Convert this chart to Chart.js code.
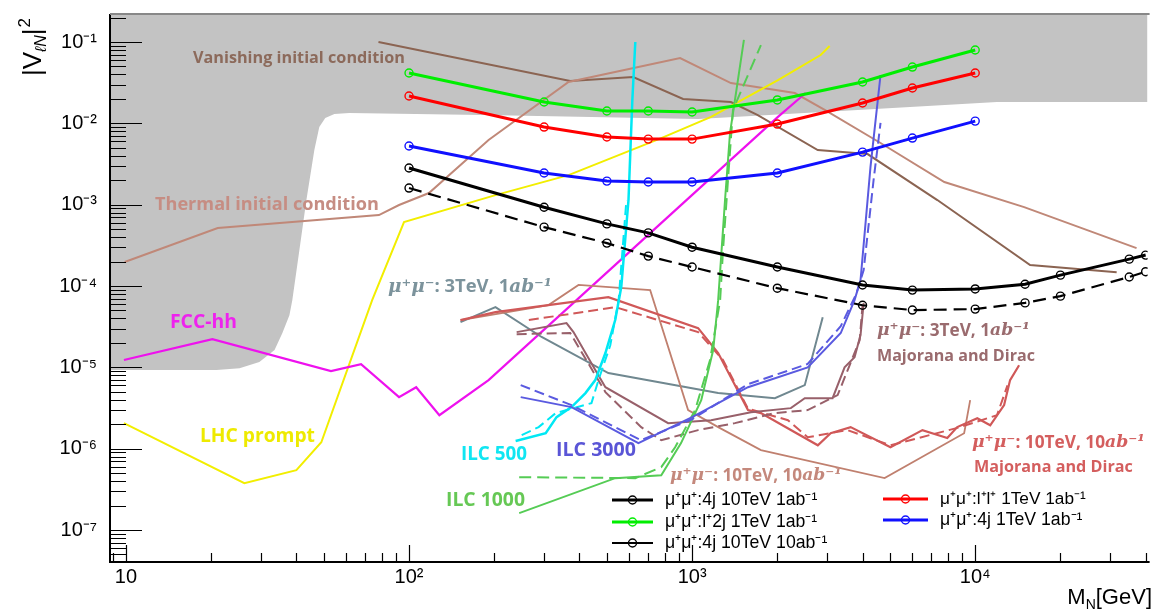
<!DOCTYPE html>
<html>
<head>
<meta charset="utf-8">
<script src="https://cdn.jsdelivr.net/npm/chart.js@4.4.1/dist/chart.umd.min.js"></script>
<style>
  html, body { margin: 0; padding: 0; background: #fff; }
  canvas { display: block; }
</style>
</head>
<body>
<canvas id="c" width="1153" height="612"></canvas>
<script>
// axis
const xTicks = [10, 100, 1000, 10000];
const xTickLabels = ['10', '10²', '10³', '10⁴'];
const yTicks = [1e-7, 1e-6, 1e-5, 1e-4, 1e-3, 1e-2, 1e-1];
const yTickLabels = ['10⁻⁷', '10⁻⁶', '10⁻⁵', '10⁻⁴', '10⁻³', '10⁻²', '10⁻¹'];

// mu+ mu+ same-sign results (M_N in GeV, |V|^2)
const mass10TeV = [100, 300, 500, 700, 1000, 2000, 4000, 6000, 10000, 15000, 20000, 35000, 40000];
const v4j10TeV1ab = [2.82e-3, 9.3e-4, 5.8e-4, 4.5e-4, 3.0e-4, 1.71e-4, 1.03e-4, 8.9e-5, 9.2e-5, 1.05e-4, 1.36e-4, 2.14e-4, 2.4e-4];
const v4j10TeV10ab = [1.6e-3, 5.3e-4, 3.37e-4, 2.33e-4, 1.71e-4, 9.4e-5, 5.8e-5, 5.06e-5, 5.2e-5, 6.2e-5, 7.5e-5, 1.29e-4, 1.5e-4];
const mass1TeV = [100, 300, 500, 700, 1000, 2000, 4000, 6000, 10000];
const vL2j1TeV = [0.0416, 0.0183, 0.0142, 0.0142, 0.0138, 0.0194, 0.0322, 0.0492, 0.0798];
const vLL1TeV = [0.0217, 9.0e-3, 6.8e-3, 6.4e-3, 6.4e-3, 9.8e-3, 0.0178, 0.0272, 0.0416];
const v4j1TeV = [5.26e-3, 2.45e-3, 1.95e-3, 1.9e-3, 1.9e-3, 2.45e-3, 4.43e-3, 6.59e-3, 0.01066];

// cosmology bounds
const vanishM = [78, 371, 619, 929, 1371, 1706, 2778, 4168, 7350, 15630, 31600];
const vanishV = [0.1, 0.0331, 0.0371, 0.0199, 0.0183, 0.01265, 4.7e-3, 4.19e-3, 1.14e-3, 1.81e-4, 1.48e-4];
const thermalM = [9.9, 21.1, 78.3, 92.2, 117.6, 191, 366, 907, 1371, 2307, 2940, 4630, 7780, 14890, 37150];
const thermalV = [1.97e-4, 5.15e-4, 7.45e-4, 9.9e-4, 1.39e-3, 6.24e-3, 0.0322, 0.0635, 0.0313, 0.0236, 0.0146, 5.73e-3, 1.9e-3, 9.33e-4, 2.92e-4];

// excluded (grey) region, lower edge
const greyM = [8.785, 20.9, 25.2, 29.6, 33.5, 35.7, 37.8, 38.7, 41.0, 43.4, 46.3, 48.2, 50.6, 54.5, 61.5, 207, 1050, 3846, 11940, 40640];
const greyV = [9.25e-6, 9.25e-6, 9.77e-6, 1.16e-5, 1.63e-5, 2.64e-5, 4.38e-5, 6.7e-5, 2.77e-4, 1.14e-3, 4.7e-3, 9.0e-3, 1.16e-2, 1.3e-2, 1.34e-2, 1.26e-2, 1.13e-2, 1.46e-2, 1.83e-2, 1.83e-2];

// colliders
const lhcM = [9.84, 26.2, 40, 49, 74.1, 96, 202, 366, 778, 1167, 2010, 2845, 3060];
const lhcV = [2.06e-6, 3.77e-7, 5.45e-7, 1.2e-6, 6.7e-5, 6.1e-4, 1.31e-3, 2.31e-3, 6.59e-3, 0.012, 0.0341, 0.0692, 0.0893];
const fccM = [9.84, 20.2, 53, 67.7, 92.2, 106, 128, 191, 467, 2010, 2518];
const fccV = [1.23e-5, 2.22e-5, 8.98e-6, 1.09e-5, 4.3e-6, 5.7e-6, 2.58e-6, 6.97e-6, 1.18e-4, 0.012, 0.0236];
const ilc500M = [238, 304, 332, 375, 420, 455, 494, 535, 562, 596, 615, 630];
const ilc500V = [1.24e-6, 1.55e-6, 2.44e-6, 3.24e-6, 4.82e-6, 6.97e-6, 1.5e-5, 3.81e-5, 9.7e-5, 1.14e-3, 0.0194, 0.1];
const ilc500bM = [250, 287, 330, 441, 467, 514, 550, 586];
const ilc500bV = [1.47e-6, 1.84e-6, 2.74e-6, 3.63e-6, 6.97e-6, 1.87e-5, 6.7e-5, 1.14e-3];
const ilc1000M = [245, 535, 778, 914, 1077, 1187, 1236, 1307, 1361, 1524];
const ilc1000V = [1.61e-7, 4.34e-7, 4.72e-7, 1.17e-6, 3.95e-6, 1.63e-5, 6.7e-5, 1.14e-3, 7.6e-3, 0.106];
const ilc1000bM = [245, 630, 778, 871, 1025, 1157, 1256, 1286, 1394, 1750];
const ilc1000bV = [4.46e-7, 4.34e-7, 5.92e-7, 1.04e-6, 2.98e-6, 1.23e-5, 6.7e-5, 2.77e-4, 0.0146, 0.0918];
const ilc3000M = [248, 375, 646, 1000, 1575, 2560, 3350, 3748, 3935, 4266, 4630];
const ilc3000V = [4.3e-6, 3.24e-6, 1.17e-6, 2.44e-6, 5.7e-6, 1.0e-5, 2.64e-5, 6.7e-5, 1.18e-4, 2.9e-3, 0.0393];
const ilc3000bM = [248, 375, 660, 1000, 1575, 2560, 3350, 3800, 4036, 4375, 4630];
const ilc3000bV = [6.04e-6, 3.43e-6, 1.27e-6, 2.3e-6, 6.2e-6, 1.1e-5, 3.2e-5, 8e-5, 1.57e-4, 2.0e-3, 0.0101];

// mu+ mu- opposite-sign results
const mm3M = [152, 202, 294, 506, 1236, 1960, 2500, 2893];
const mm3V = [3.6e-5, 5.5e-5, 2.36e-5, 8.5e-6, 4.82e-6, 4.18e-6, 6.04e-6, 4.14e-5];
const mm3MajM = [240, 360, 381, 455, 494, 823, 1167, 1614, 2232, 2500, 3135, 3456, 3748, 3935, 4036];
const mm3MajV = [2.71e-5, 3.5e-5, 2.71e-5, 9.25e-6, 5.7e-6, 2.06e-6, 2.24e-6, 2.81e-6, 3.15e-6, 4.18e-6, 4.18e-6, 1.0e-5, 1.33e-5, 2.49e-5, 6.17e-5];
const mm3DirM = [240, 371, 494, 661, 778, 1050, 1416, 1960, 2560, 3266, 3600, 3908, 4000];
const mm3DirV = [2.56e-5, 2.64e-5, 4.96e-6, 1.84e-6, 1.27e-6, 1.69e-6, 2.06e-6, 2.74e-6, 2.98e-6, 4.55e-6, 1.06e-5, 2.16e-5, 5.82e-5];
const mm10M = [152, 311, 397, 711, 968, 1236, 1750, 4786, 9140, 9600];
const mm10V = [3.81e-5, 5.82e-5, 1.03e-4, 8.9e-5, 2.98e-6, 1.84e-6, 9.6e-7, 4.34e-7, 1.55e-6, 3.95e-6];
const mm10MajM = [152, 202, 506, 1050, 1236, 1575, 1750, 2780, 3086, 3630, 5020, 6510, 7970, 8640, 10170, 11300, 12650, 13280, 14290];
const mm10MajV = [3.81e-5, 4.77e-5, 7.3e-5, 3.03e-5, 1.5e-5, 2.98e-6, 2.74e-6, 1.1e-6, 1.55e-6, 1.84e-6, 1.04e-6, 1.69e-6, 1.35e-6, 1.84e-6, 2.37e-6, 1.94e-6, 3.43e-6, 6.97e-6, 1.06e-5];
const mm10DirM = [265, 535, 1050, 1286, 1575, 2180, 2560, 3540, 5020, 8640, 11940, 13000];
const mm10DirV = [3.81e-5, 5.5e-5, 2.71e-5, 1.23e-5, 3.1e-6, 2.24e-6, 1.38e-6, 1.69e-6, 1.1e-6, 1.8e-6, 2.58e-6, 6.0e-6];

const legendNames = ['μ⁺μ⁺:4j 10TeV 1ab⁻¹', 'μ⁺μ⁺:l⁺2j 1TeV 1ab⁻¹', 'μ⁺μ⁺:4j 10TeV 10ab⁻¹', 'μ⁺μ⁺:l⁺l⁺ 1TeV 1ab⁻¹', 'μ⁺μ⁺:4j 1TeV 1ab⁻¹'];

function pts(xs, ys) {
  return xs.map((x, i) => ({ x: x, y: ys[i] }));
}

function curve(xs, ys, color, width, dash) {
  return {
    data: pts(xs, ys),
    borderColor: color,
    borderWidth: width,
    borderDash: dash || [],
    pointRadius: 0,
    fill: false,
    tension: 0
  };
}

function marked(label, xs, ys, color, width, dash) {
  const d = curve(xs, ys, color, width, dash);
  d.label = label;
  d.pointRadius = 4;
  d.pointBorderWidth = 1.4;
  d.pointBorderColor = color;
  d.pointBackgroundColor = 'rgba(0,0,0,0)';
  return d;
}

const grey = curve(greyM, greyV, 'rgba(0,0,0,0)', 0);
grey.fill = 'end';
grey.backgroundColor = '#c3c3c3';
grey.order = 10;

// first dataset ends up on top
const datasets = [
  marked(legendNames[0], mass10TeV, v4j10TeV1ab, '#000000', 3),
  marked(legendNames[2], mass10TeV, v4j10TeV10ab, '#000000', 2.2, [13, 7]),
  marked(legendNames[1], mass1TeV, vL2j1TeV, '#00ee00', 3),
  marked(legendNames[3], mass1TeV, vLL1TeV, '#ff0000', 3),
  marked(legendNames[4], mass1TeV, v4j1TeV, '#1010ff', 3),
  curve(ilc3000M, ilc3000V, '#5a5ae0', 2),
  curve(ilc3000bM, ilc3000bV, '#5a5ae0', 2, [10, 5]),
  curve(ilc1000M, ilc1000V, '#55cc55', 2),
  curve(ilc1000bM, ilc1000bV, '#55cc55', 2, [12, 6]),
  curve(ilc500M, ilc500V, '#00e8f4', 2.5),
  curve(ilc500bM, ilc500bV, '#00e8f4', 2, [10, 5]),
  curve(mm3MajM, mm3MajV, '#98606a', 2),
  curve(mm3DirM, mm3DirV, '#98606a', 2, [10, 5]),
  curve(mm10MajM, mm10MajV, '#d05858', 2.2),
  curve(mm10DirM, mm10DirV, '#d05858', 2, [10, 5]),
  curve(mm10M, mm10V, '#c0806f', 1.8),
  curve(mm3M, mm3V, '#708890', 2),
  curve(fccM, fccV, '#ee11ee', 2.2),
  curve(lhcM, lhcV, '#f2ee00', 2),
  curve(thermalM, thermalV, '#c08878', 2),
  curve(vanishM, vanishV, '#8b6452', 2),
  grey
];

// ROOT-like frame with inward ticks
const frame = {
  id: 'frame',
  afterDatasetsDraw(chart) {
    const { ctx, chartArea: a, scales } = chart;
    const x = scales.x, y = scales.y;
    ctx.save();
    ctx.strokeStyle = '#000';
    ctx.lineWidth = 1.2;
    ctx.beginPath();
    for (let e = -8; e <= 0; e++) {
      for (let k = 1; k <= 9; k++) {
        const v = k * Math.pow(10, e);
        if (v < y.min || v > y.max) continue;
        const py = Math.round(y.getPixelForValue(v)) + 0.5;
        ctx.moveTo(a.left, py);
        ctx.lineTo(a.left + (k === 1 ? 32 : 16), py);
      }
    }
    for (let e = 0; e <= 4; e++) {
      for (let k = 1; k <= 9; k++) {
        const v = k * Math.pow(10, e);
        if (v < x.min || v > x.max) continue;
        const px = Math.round(x.getPixelForValue(v)) + 0.5;
        ctx.moveTo(px, a.bottom);
        ctx.lineTo(px, a.bottom - (k === 1 ? 17 : 9));
      }
    }
    ctx.stroke();
    ctx.lineWidth = 2;
    ctx.beginPath();
    ctx.moveTo(a.left, a.top);
    ctx.lineTo(a.left, a.bottom);
    ctx.lineTo(a.right + 2, a.bottom);
    ctx.stroke();
    ctx.strokeStyle = '#888';
    ctx.beginPath();
    ctx.moveTo(a.left, a.top);
    ctx.lineTo(a.right + 2, a.top);
    ctx.stroke();
    ctx.restore();
  }
};

function fontFor(kind, size) {
  if (kind === 'i') return 'italic bold ' + size + 'px "DejaVu Serif"';
  if (kind === 'n') return size + 'px "Liberation Sans"';
  return 'bold ' + size + 'px "Open Sans"';
}

// draws text pieces scaled so the whole run is `width` wide
function rich(ctx, parts, x, y, width, color) {
  let w = 0;
  parts.forEach(p => { ctx.font = fontFor(p[1], 20); w += ctx.measureText(p[0]).width; });
  const size = 20 * width / w;
  ctx.fillStyle = color;
  ctx.textAlign = 'left';
  ctx.textBaseline = 'middle';
  let cx = x;
  parts.forEach(p => {
    ctx.font = fontFor(p[1], size);
    ctx.fillText(p[0], cx, y);
    cx += ctx.measureText(p[0]).width;
  });
}

const mu3 = [['μ⁺μ⁻', 'i'], [': 3TeV, 1', 's'], ['ab', 'i'], ['⁻¹', 'i']];
const mu10 = [['μ⁺μ⁻', 'i'], [': 10TeV, 10', 's'], ['ab', 'i'], ['⁻¹', 'i']];

const notes = {
  id: 'notes',
  afterDraw(chart) {
    const ctx = chart.ctx;
    const ds = chart.data.datasets;
    ctx.save();
    rich(ctx, [['Vanishing initial condition', 's']], 193, 58, 212, '#8c6a5b');
    rich(ctx, [['Thermal initial condition', 's']], 155, 205, 224, '#c68d83');
    rich(ctx, [['FCC-hh', 's']], 170, 322, 67, '#ee22ee');
    rich(ctx, [['LHC prompt', 's']], 200, 437, 115, '#eeea00');
    rich(ctx, [['ILC 500', 's']], 461, 455, 66, '#10e6f2');
    rich(ctx, [['ILC 3000', 's']], 556, 450, 80, '#5a55d6');
    rich(ctx, [['ILC 1000', 's']], 446, 500, 79, '#66c855');
    rich(ctx, mu3, 388, 287, 164, '#7c939c');
    rich(ctx, mu3, 877, 331, 153, '#9a6b6e');
    rich(ctx, [['Majorana and Dirac', 's']], 877, 356, 158, '#9a6b6e');
    rich(ctx, mu10, 972, 443, 173, '#d45e5e');
    rich(ctx, [['Majorana and Dirac', 's']], 974, 467, 159, '#d45e5e');
    rich(ctx, mu10, 670, 476, 172, '#c4887c');

    // legend
    const rows = [
      { d: ds[0], x: 612, y: 500, w: 153, lw: 3 },
      { d: ds[2], x: 612, y: 522, w: 153, lw: 3 },
      { d: ds[1], x: 612, y: 543, w: 163, lw: 1.8 },
      { d: ds[3], x: 883, y: 499, w: 146, lw: 3 },
      { d: ds[4], x: 883, y: 520, w: 143, lw: 3 }
    ];
    rows.forEach(r => {
      const len = r.x > 800 ? 45 : 41;
      ctx.strokeStyle = r.d.borderColor;
      ctx.lineWidth = r.lw;
      ctx.beginPath();
      ctx.moveTo(r.x, r.y);
      ctx.lineTo(r.x + len, r.y);
      ctx.stroke();
      ctx.lineWidth = 1.4;
      ctx.beginPath();
      ctx.arc(r.x + len / 2, r.y, 4, 0, Math.PI * 2);
      ctx.stroke();
      rich(ctx, [[r.d.label, 'n']], r.x + len + 12, r.y, r.w, '#000');
    });

    // axis titles
    ctx.fillStyle = '#000';
    ctx.textBaseline = 'alphabetic';
    ctx.textAlign = 'left';
    ctx.save();
    ctx.translate(41, 76);
    ctx.rotate(-Math.PI / 2);
    let cx = 0;
    ctx.font = '26px "Liberation Sans"';
    ctx.fillText('|V', cx, 0); cx += ctx.measureText('|V').width;
    ctx.font = 'italic 16px "Liberation Sans"';
    ctx.fillText('ℓN', cx, 5); cx += ctx.measureText('ℓN').width;
    ctx.font = '26px "Liberation Sans"';
    ctx.fillText('|', cx, 0); cx += ctx.measureText('|').width;
    ctx.font = '17px "Liberation Sans"';
    ctx.fillText('2', cx + 1, -11);
    ctx.restore();

    ctx.font = '22px "Liberation Sans"';
    const wM = ctx.measureText('M').width, wG = ctx.measureText('[GeV]').width;
    ctx.font = '14px "Liberation Sans"';
    const wN = ctx.measureText('N').width;
    let mx = 1152 - wM - wN - wG;
    ctx.font = '22px "Liberation Sans"';
    ctx.fillText('M', mx, 604); mx += wM;
    ctx.font = '14px "Liberation Sans"';
    ctx.fillText('N', mx, 609); mx += wN;
    ctx.font = '22px "Liberation Sans"';
    ctx.fillText('[GeV]', mx, 604);
    ctx.restore();
  }
};

const tickFont = { family: 'Liberation Sans', size: 20 };

new Chart(document.getElementById('c'), {
  type: 'line',
  data: { datasets: datasets },
  options: {
    responsive: false,
    animation: false,
    events: [],
    layout: { padding: { left: 0, right: 2, top: 14, bottom: 0 } },
    plugins: { legend: { display: false }, tooltip: { enabled: false } },
    scales: {
      x: {
        type: 'logarithmic',
        min: 8.785,
        max: 40640,
        afterBuildTicks: s => { s.ticks = xTicks.map(v => ({ value: v })); },
        afterFit: s => { s.height = 50; s.paddingLeft = 0; s.paddingRight = 0; },
        ticks: {
          callback: (v, i) => xTickLabels[i],
          font: tickFont, color: '#000', padding: 3,
          autoSkip: false, maxRotation: 0
        },
        grid: { display: false, drawTicks: false },
        border: { display: false }
      },
      y: {
        type: 'logarithmic',
        min: 4.04e-8,
        max: 0.221,
        afterBuildTicks: s => { s.ticks = yTicks.map(v => ({ value: v })); },
        afterFit: s => { s.width = 110; s.paddingTop = 0; s.paddingBottom = 0; },
        ticks: {
          callback: (v, i) => yTickLabels[i],
          font: tickFont, color: '#000', padding: 13,
          autoSkip: false
        },
        grid: { display: false, drawTicks: false },
        border: { display: false }
      }
    }
  },
  plugins: [frame, notes]
});
</script>
</body>
</html>
